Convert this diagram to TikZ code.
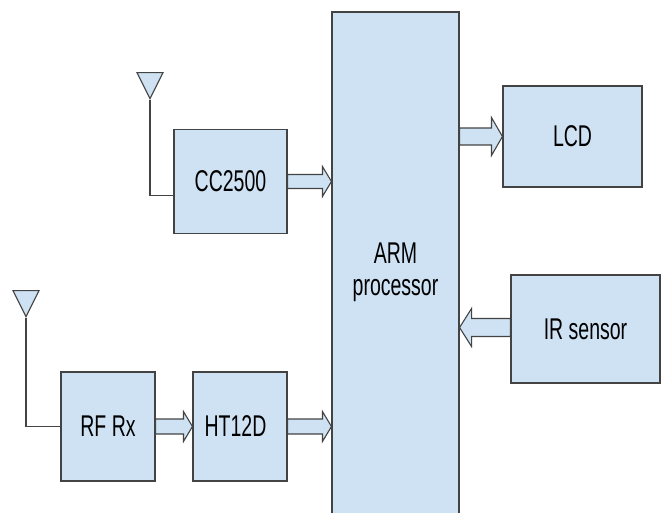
\documentclass[tikz,border=0pt]{standalone}
\usepackage{fontspec}
\setmainfont[FakeStretch=0.65]{Liberation Sans}
\usetikzlibrary{calc,shapes.geometric}
\definecolor{boxblue}{HTML}{CFE2F3}
\definecolor{boxline}{HTML}{434343}
\tikzset{
  blk/.style={draw=boxline,fill=boxblue,line width=1.1pt,inner sep=0pt,align=center,font=\fontsize{30}{32}\selectfont},
  ant/.style={draw=boxline,fill=boxblue,line width=1.1pt,isosceles triangle,isosceles triangle stretches,shape border rotate=-90,anchor=apex,inner sep=0pt,minimum width=26pt,minimum height=26pt},
  wire/.style={draw=boxline,line width=1.1pt},
  bus/.style={draw=boxline,fill=boxblue,line width=1.1pt,line join=miter}
}
\newcommand{\busarrow}[5]{
  \coordinate (hb) at ($(#2)!#5pt!(#1)$);
  \draw[bus] ($(#1)!#3pt!90:(#2)$) -- ($(hb)!#3pt!-90:(#1)$) -- ($(hb)!#4pt!-90:(#1)$)
    -- (#2) -- ($(hb)!#4pt!90:(#1)$) -- ($(hb)!#3pt!90:(#1)$) -- ($(#1)!#3pt!-90:(#2)$) -- cycle;
}
\begin{document}
\begin{tikzpicture}[x=1pt,y=-1pt]
    \useasboundingbox (0,0) rectangle (666,512);
    \node[blk,minimum width=127pt,minimum height=520pt] (ARM) at (395.5,272)
    {ARM\\processor};
    \node[blk,minimum width=113pt,minimum height=104pt] (CC) at (230.5,181.5)
    {CC2500};
    \node[blk,minimum width=94pt,minimum height=109pt] (RF) at (108,426.5)
    {RF Rx};
    \node[blk,minimum width=94pt,minimum height=109pt] (HT) at (240,426.5)
    {HT12D\hspace*{9pt}};
    \node[blk,minimum width=139pt,minimum height=101pt] (LCD) at (572.5,136.5)
    {LCD};
    \node[blk,minimum width=149pt,minimum height=108pt] (IR) at (585.5,329)
    {IR sensor};
    \node[ant] (antCC) at (150,100) {};
    \node[ant] (antRF) at (26,318) {};
    \draw[wire] (antCC.apex) |- ($(CC.west)+(0,14)$);
    \draw[wire] (antRF.apex) |- (RF.west);
    \busarrow{CC.east}{CC.east -| ARM.west}{7}{15}{9}
    \busarrow{RF.east}{HT.west}{7.5}{15}{9}
    \busarrow{HT.east}{HT.east -| ARM.west}{7.5}{15}{9}
    \busarrow{LCD.west -| ARM.east}{LCD.west}{8.5}{19}{11}
    \busarrow{$(IR.west)+(0,-1.5)$}{$(IR.west -| ARM.east)+(0,-1.5)$}{9}{19}{12}
\end{tikzpicture}
\end{document}
